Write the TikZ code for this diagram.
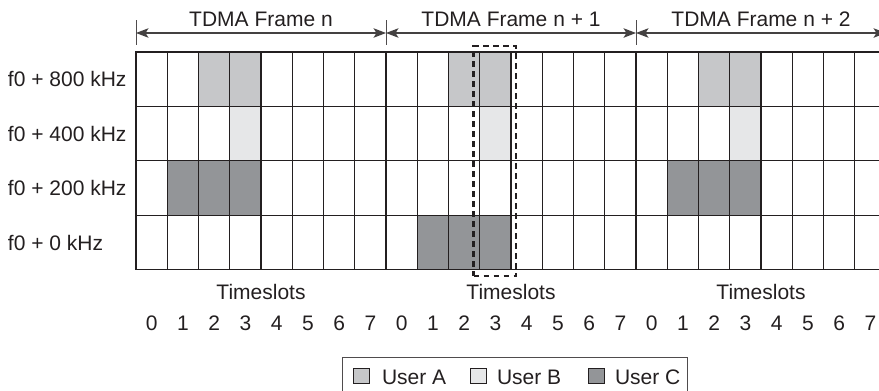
\documentclass[tikz,border=0pt]{standalone}
\usepackage{fontspec}
\setmainfont{Liberation Sans}
\usetikzlibrary{arrows.meta}
\definecolor{ua}{HTML}{C6C7C9}
\definecolor{ub}{HTML}{E6E7E8}
\definecolor{uc}{HTML}{939598}
\definecolor{ln}{HTML}{231F20}
\def\setfill#1#2{\expandafter\def\csname cf-#1\endcsname{#2}}
% fills: frame-slot-row
\setfill{0-2-0}{ua}\setfill{0-3-0}{ua}\setfill{1-2-0}{ua}\setfill{1-3-0}{ua}\setfill{2-2-0}{ua}\setfill{2-3-0}{ua}
\setfill{0-3-1}{ub}\setfill{1-3-1}{ub}\setfill{2-3-1}{ub}
\setfill{0-1-2}{uc}\setfill{0-2-2}{uc}\setfill{0-3-2}{uc}
\setfill{1-1-3}{uc}\setfill{1-2-3}{uc}\setfill{1-3-3}{uc}
\setfill{2-1-2}{uc}\setfill{2-2-2}{uc}\setfill{2-3-2}{uc}
\begin{document}
\begin{tikzpicture}[x=1pt,y=-1pt,
  cell/.style={draw=ln,line width=1.2pt,minimum width=31.25pt,minimum height=54.4pt,inner sep=0pt,outer sep=0pt,anchor=north west},
  txt/.style={font=\fontsize{21}{21}\selectfont,text=ln,inner sep=0pt,outer sep=0pt},
  framebar/.style={draw=ln,line width=2.6pt},
  tick/.style={draw=ln!80,line width=0.9pt},
  span/.style={draw=ln!85,line width=1.1pt,{Stealth[length=12.5pt,width=9.5pt,inset=3pt]}-{Stealth[length=12.5pt,width=9.5pt,inset=3pt]}},
  selbox/.style={draw=ln,line width=2.5pt,dash pattern=on 5.5pt off 4.5pt,minimum width=42.5pt,minimum height=230pt,inner sep=0pt,outer sep=0pt},
  legsq/.style={draw=ln,line width=1pt,minimum width=16pt,minimum height=15pt,inner sep=0pt,anchor=south west},
  legbox/.style={draw=ln!80,line width=1.1pt,minimum width=345pt,minimum height=40pt,inner sep=0pt,anchor=north west}]
\useasboundingbox (0,0) rectangle (879,391);
% grid cells
\foreach \f in {0,1,2}{
  \foreach \s in {0,...,7}{
    \foreach \r in {0,...,3}{
      \ifcsname cf-\f-\s-\r\endcsname
        \edef\cc{\csname cf-\f-\s-\r\endcsname}%
      \else
        \def\cc{white}%
      \fi
      \node[cell,fill=\cc] (c-\f-\s-\r) at ({136+250*\f+31.25*\s},{52+54.4*\r}) {};
    }
  }
}
% frame boundaries
\draw[framebar] (c-1-0-0.north west) -- (c-1-0-3.south west);
\draw[framebar] (c-2-0-0.north west) -- (c-2-0-3.south west);
% frame spans
\foreach \i/\x in {0/136,1/386,2/636,3/886}{
  \coordinate (tt\i) at (\x,20);
  \coordinate (tb\i) at (\x,45);
  \coordinate (ta\i) at (\x,33);
  \draw[tick] (tt\i) -- (tb\i);
}
\draw[span] (ta0) -- (ta1);
\draw[span] (ta1) -- (ta2);
\draw[span] (ta2) -- (ta3);
\node[txt,anchor=base] (fn0) at (261,26) {TDMA Frame n};
\node[txt,anchor=base] (fn1) at (511,26) {TDMA Frame n + 1};
\node[txt,anchor=base] (fn2) at (761,26) {TDMA Frame n + 2};
% frequency labels
\node[txt,anchor=base west] (fq0) at (8,86.5) {f0 + 800 kHz};
\node[txt,anchor=base west] (fq1) at (8,141) {f0 + 400 kHz};
\node[txt,anchor=base west] (fq2) at (8,195.5) {f0 + 200 kHz};
\node[txt,anchor=base west] (fq3) at (8,250) {f0 + 0 kHz};
% timeslot labels
\foreach \f in {0,1,2}{
  \node[txt,anchor=base] (ts\f) at ({261+250*\f},299) {Timeslots};
  \foreach \s in {0,...,7}{
    \node[txt,anchor=base] (n-\f-\s) at ({151.6+250*\f+31.25*\s},330) {\s};
  }
}
% selection
\node[selbox] (sel) at (494.75,161) {};
% legend
\node[legbox] (leg) at (342,357) {};
\node[legsq,fill=ua] (sqa) at (353,384) {};
\node[txt,anchor=base west] (la) at (382,384) {User A};
\node[legsq,fill=ub] (sqb) at (470,384) {};
\node[txt,anchor=base west] (lb) at (497,384) {User B};
\node[legsq,fill=uc] (sqc) at (588,384) {};
\node[txt,anchor=base west] (lc) at (615,384) {User C};
\end{tikzpicture}
\end{document}
